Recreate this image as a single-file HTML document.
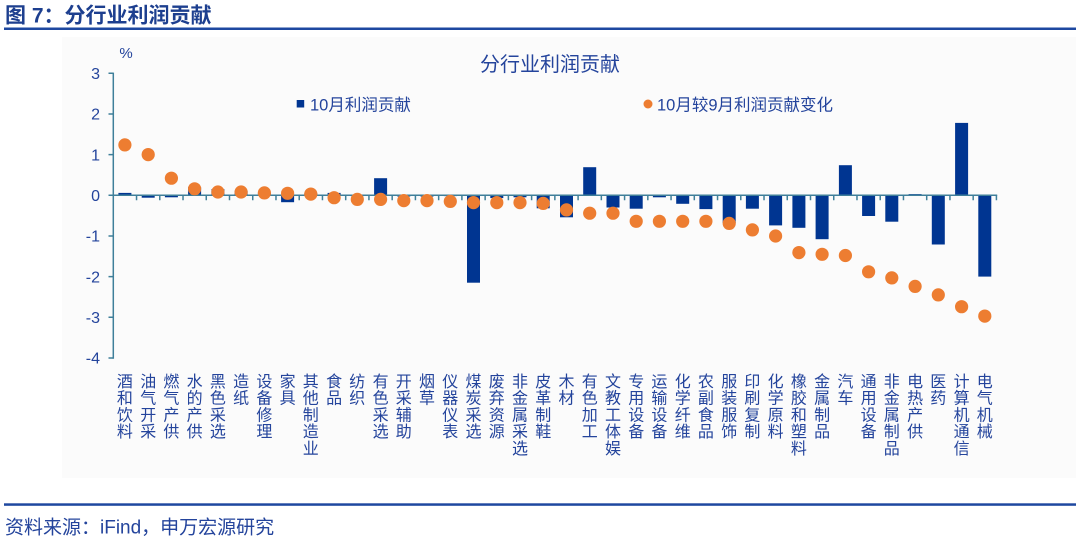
<!DOCTYPE html>
<html>
<head>
<meta charset="utf-8">
<style>
  html, body { margin:0; padding:0; background:#ffffff; }
  body { width:1080px; height:542px; overflow:hidden; }
  svg { display:block; font-family:"Liberation Sans","Noto Sans CJK SC",sans-serif; }
</style>
</head>
<body>
<svg width="1080" height="542" viewBox="0 0 1080 542" xmlns="http://www.w3.org/2000/svg">
  <!-- header -->
  <text x="5" y="22.5" font-size="21" font-weight="bold" fill="#1d3f8f">图 7：分行业利润贡献</text>
  <rect x="4" y="27.5" width="1072" height="2.5" fill="#1e48a0"/>

  <!-- chart background -->
  <rect x="62" y="37" width="1014" height="441" fill="#fbfbfb"/>

  <!-- chart title -->
  <text x="550" y="71" font-size="20" fill="#24449c" text-anchor="middle">分行业利润贡献</text>

  <!-- legend -->
  <rect x="296.7" y="100" width="7.5" height="7.5" fill="#003591"/>
  <text x="310" y="110.4" font-size="16.5" fill="#24449c">10月利润贡献</text>
  <circle cx="648" cy="104" r="4.5" fill="#ed7d31"/>
  <text x="657" y="110.4" font-size="16.5" fill="#24449c">10月较9月利润贡献变化</text>

  <!-- y axis labels -->
  <g font-size="16" fill="#24449c" text-anchor="end">
    <text x="126" y="58" text-anchor="middle" font-size="15">%</text>
    <text x="100" y="79">3</text>
    <text x="100" y="119.7">2</text>
    <text x="100" y="160.3">1</text>
    <text x="100" y="201">0</text>
    <text x="100" y="241.7">-1</text>
    <text x="100" y="282.3">-2</text>
    <text x="100" y="323">-3</text>
    <text x="100" y="363.7">-4</text>
  </g>

  <!-- bars -->
  <g fill="#003591">
    <rect x="118.4" y="192.9" width="13" height="2.4"/>
    <rect x="141.7" y="195.3" width="13" height="2.4"/>
    <rect x="164.9" y="195.3" width="13" height="2.0"/>
    <rect x="188.1" y="187.2" width="13" height="8.1"/>
    <rect x="211.4" y="189.2" width="13" height="6.1"/>
    <rect x="234.6" y="190.8" width="13" height="4.5"/>
    <rect x="257.9" y="192.5" width="13" height="2.8"/>
    <rect x="281.1" y="195.3" width="13" height="6.9"/>
    <rect x="304.3" y="193.3" width="13" height="2.0"/>
    <rect x="327.6" y="192.9" width="13" height="2.4"/>
    <rect x="350.8" y="195.3" width="13" height="0.8"/>
    <rect x="374.1" y="178.2" width="13" height="17.1"/>
    <rect x="397.3" y="195.3" width="13" height="1.2"/>
    <rect x="420.5" y="195.3" width="13" height="1.2"/>
    <rect x="443.8" y="195.3" width="13" height="0.8"/>
    <rect x="467.0" y="195.3" width="13" height="87.4"/>
    <rect x="490.3" y="195.3" width="13" height="2.8"/>
    <rect x="513.5" y="195.3" width="13" height="2.0"/>
    <rect x="536.7" y="195.3" width="13" height="13.0"/>
    <rect x="560.0" y="195.3" width="13" height="22.0"/>
    <rect x="583.2" y="167.2" width="13" height="28.1"/>
    <rect x="606.5" y="195.3" width="13" height="12.2"/>
    <rect x="629.7" y="195.3" width="13" height="13.4"/>
    <rect x="652.9" y="195.3" width="13" height="2.0"/>
    <rect x="676.2" y="195.3" width="13" height="8.5"/>
    <rect x="699.4" y="195.3" width="13" height="13.8"/>
    <rect x="722.7" y="195.3" width="13" height="27.7"/>
    <rect x="745.9" y="195.3" width="13" height="13.4"/>
    <rect x="769.1" y="195.3" width="13" height="30.1"/>
    <rect x="792.4" y="195.3" width="13" height="32.5"/>
    <rect x="815.6" y="195.3" width="13" height="43.9"/>
    <rect x="838.9" y="165.2" width="13" height="30.1"/>
    <rect x="862.1" y="195.3" width="13" height="20.7"/>
    <rect x="885.3" y="195.3" width="13" height="26.4"/>
    <rect x="908.6" y="194.1" width="13" height="1.2"/>
    <rect x="931.8" y="195.3" width="13" height="49.2"/>
    <rect x="955.1" y="122.9" width="13" height="72.4"/>
    <rect x="978.3" y="195.3" width="13" height="81.3"/>
  </g>

  <!-- axes -->
  <g stroke="#3f7f9a" stroke-width="1.5" fill="none">
    <line x1="113.3" y1="72.6" x2="113.3" y2="358.7"/>
    <line x1="112.6" y1="195.3" x2="997.2" y2="195.3"/>
    <path d="M108.5 73.3H113.3M108.5 114H113.3M108.5 154.6H113.3M108.5 195.3H113.3M108.5 236H113.3M108.5 276.6H113.3M108.5 317.3H113.3M108.5 358H113.3"/>
    <path d="M136.54 195.3v5M159.78 195.3v5M183.02 195.3v5M206.26 195.3v5M229.5 195.3v5M252.74 195.3v5M275.98 195.3v5M299.22 195.3v5M322.46 195.3v5M345.7 195.3v5M368.94 195.3v5M392.18 195.3v5M415.42 195.3v5M438.66 195.3v5M461.9 195.3v5M485.14 195.3v5M508.38 195.3v5M531.62 195.3v5M554.86 195.3v5M578.1 195.3v5M601.34 195.3v5M624.58 195.3v5M647.82 195.3v5M671.06 195.3v5M694.3 195.3v5M717.54 195.3v5M740.78 195.3v5M764.02 195.3v5M787.26 195.3v5M810.5 195.3v5M833.74 195.3v5M856.98 195.3v5M880.22 195.3v5M903.46 195.3v5M926.7 195.3v5M949.94 195.3v5M973.18 195.3v5M996.42 195.3v5"/>
  </g>

  <!-- dots -->
  <g fill="#ed7d31">
    <circle cx="124.9" cy="144.9" r="6.6"/>
    <circle cx="148.2" cy="154.6" r="6.6"/>
    <circle cx="171.4" cy="178.2" r="6.6"/>
    <circle cx="194.6" cy="188.8" r="6.6"/>
    <circle cx="217.9" cy="192.0" r="6.6"/>
    <circle cx="241.1" cy="192.0" r="6.6"/>
    <circle cx="264.4" cy="192.9" r="6.6"/>
    <circle cx="287.6" cy="193.3" r="6.6"/>
    <circle cx="310.8" cy="194.1" r="6.6"/>
    <circle cx="334.1" cy="197.7" r="6.6"/>
    <circle cx="357.3" cy="199.4" r="6.6"/>
    <circle cx="380.6" cy="199.4" r="6.6"/>
    <circle cx="403.8" cy="200.6" r="6.6"/>
    <circle cx="427.0" cy="200.6" r="6.6"/>
    <circle cx="450.3" cy="201.4" r="6.6"/>
    <circle cx="473.5" cy="202.6" r="6.6"/>
    <circle cx="496.8" cy="202.6" r="6.6"/>
    <circle cx="520.0" cy="202.6" r="6.6"/>
    <circle cx="543.2" cy="203.4" r="6.6"/>
    <circle cx="566.5" cy="209.9" r="6.6"/>
    <circle cx="589.7" cy="213.2" r="6.6"/>
    <circle cx="613.0" cy="213.2" r="6.6"/>
    <circle cx="636.2" cy="221.3" r="6.6"/>
    <circle cx="659.4" cy="221.3" r="6.6"/>
    <circle cx="682.7" cy="221.3" r="6.6"/>
    <circle cx="705.9" cy="221.3" r="6.6"/>
    <circle cx="729.2" cy="223.4" r="6.6"/>
    <circle cx="752.4" cy="229.9" r="6.6"/>
    <circle cx="775.6" cy="236.0" r="6.6"/>
    <circle cx="798.9" cy="252.6" r="6.6"/>
    <circle cx="822.1" cy="254.3" r="6.6"/>
    <circle cx="845.4" cy="255.5" r="6.6"/>
    <circle cx="868.6" cy="271.8" r="6.6"/>
    <circle cx="891.8" cy="277.9" r="6.6"/>
    <circle cx="915.1" cy="286.4" r="6.6"/>
    <circle cx="938.3" cy="294.9" r="6.6"/>
    <circle cx="961.6" cy="306.7" r="6.6"/>
    <circle cx="984.8" cy="316.1" r="6.6"/>
  </g>

  <!-- x labels (vertical stacked) -->
  <g font-size="16" fill="#24449c" font-family="'Noto Sans CJK SC',sans-serif">
    <text x="116.9 116.9 116.9 116.9" y="387 403.7 420.4 437.1">酒和饮料</text>
    <text x="140.2 140.2 140.2 140.2" y="387 403.7 420.4 437.1">油气开采</text>
    <text x="163.4 163.4 163.4 163.4" y="387 403.7 420.4 437.1">燃气产供</text>
    <text x="186.6 186.6 186.6 186.6" y="387 403.7 420.4 437.1">水的产供</text>
    <text x="209.9 209.9 209.9 209.9" y="387 403.7 420.4 437.1">黑色采选</text>
    <text x="233.1 233.1" y="387 403.7">造纸</text>
    <text x="256.4 256.4 256.4 256.4" y="387 403.7 420.4 437.1">设备修理</text>
    <text x="279.6 279.6" y="387 403.7">家具</text>
    <text x="302.8 302.8 302.8 302.8 302.8" y="387 403.7 420.4 437.1 453.8">其他制造业</text>
    <text x="326.1 326.1" y="387 403.7">食品</text>
    <text x="349.3 349.3" y="387 403.7">纺织</text>
    <text x="372.6 372.6 372.6 372.6" y="387 403.7 420.4 437.1">有色采选</text>
    <text x="395.8 395.8 395.8 395.8" y="387 403.7 420.4 437.1">开采辅助</text>
    <text x="419.0 419.0" y="387 403.7">烟草</text>
    <text x="442.3 442.3 442.3 442.3" y="387 403.7 420.4 437.1">仪器仪表</text>
    <text x="465.5 465.5 465.5 465.5" y="387 403.7 420.4 437.1">煤炭采选</text>
    <text x="488.8 488.8 488.8 488.8" y="387 403.7 420.4 437.1">废弃资源</text>
    <text x="512.0 512.0 512.0 512.0 512.0" y="387 403.7 420.4 437.1 453.8">非金属采选</text>
    <text x="535.2 535.2 535.2 535.2" y="387 403.7 420.4 437.1">皮革制鞋</text>
    <text x="558.5 558.5" y="387 403.7">木材</text>
    <text x="581.7 581.7 581.7 581.7" y="387 403.7 420.4 437.1">有色加工</text>
    <text x="605.0 605.0 605.0 605.0 605.0" y="387 403.7 420.4 437.1 453.8">文教工体娱</text>
    <text x="628.2 628.2 628.2 628.2" y="387 403.7 420.4 437.1">专用设备</text>
    <text x="651.4 651.4 651.4 651.4" y="387 403.7 420.4 437.1">运输设备</text>
    <text x="674.7 674.7 674.7 674.7" y="387 403.7 420.4 437.1">化学纤维</text>
    <text x="697.9 697.9 697.9 697.9" y="387 403.7 420.4 437.1">农副食品</text>
    <text x="721.2 721.2 721.2 721.2" y="387 403.7 420.4 437.1">服装服饰</text>
    <text x="744.4 744.4 744.4 744.4" y="387 403.7 420.4 437.1">印刷复制</text>
    <text x="767.6 767.6 767.6 767.6" y="387 403.7 420.4 437.1">化学原料</text>
    <text x="790.9 790.9 790.9 790.9 790.9" y="387 403.7 420.4 437.1 453.8">橡胶和塑料</text>
    <text x="814.1 814.1 814.1 814.1" y="387 403.7 420.4 437.1">金属制品</text>
    <text x="837.4 837.4" y="387 403.7">汽车</text>
    <text x="860.6 860.6 860.6 860.6" y="387 403.7 420.4 437.1">通用设备</text>
    <text x="883.8 883.8 883.8 883.8 883.8" y="387 403.7 420.4 437.1 453.8">非金属制品</text>
    <text x="907.1 907.1 907.1 907.1" y="387 403.7 420.4 437.1">电热产供</text>
    <text x="930.3 930.3" y="387 403.7">医药</text>
    <text x="953.6 953.6 953.6 953.6 953.6" y="387 403.7 420.4 437.1 453.8">计算机通信</text>
    <text x="976.8 976.8 976.8 976.8" y="387 403.7 420.4 437.1">电气机械</text>
  </g>

  <!-- footer -->
  <rect x="4" y="503.3" width="1072" height="2.5" fill="#1e48a0"/>
  <text x="5" y="533.5" font-size="19" fill="#24449c">资料来源：iFind，申万宏源研究</text>
</svg>
</body>
</html>
